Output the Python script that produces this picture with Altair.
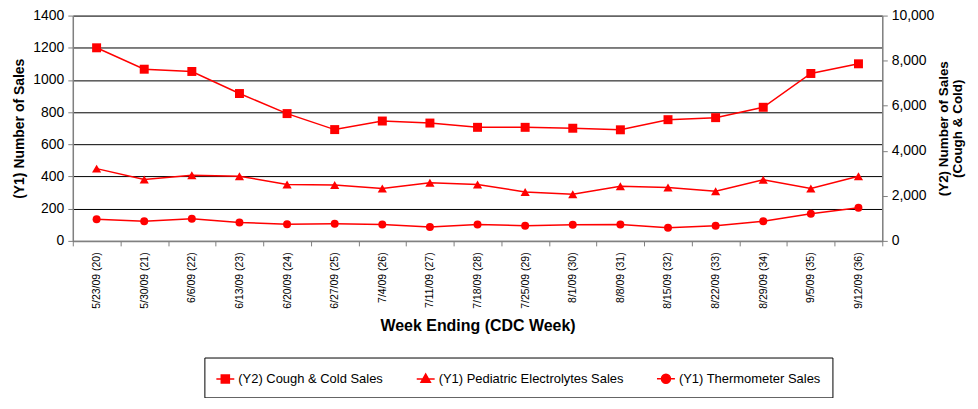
import altair as alt
import pandas as pd

weeks = ["5/23/09 (20)", "5/30/09 (21)", "6/6/09 (22)", "6/13/09 (23)", "6/20/09 (24)",
         "6/27/09 (25)", "7/4/09 (26)", "7/11/09 (27)", "7/18/09 (28)", "7/25/09 (29)",
         "8/1/09 (30)", "8/8/09 (31)", "8/15/09 (32)", "8/22/09 (33)", "8/29/09 (34)",
         "9/5/09 (35)", "9/12/09 (36)"]
cough_cold = [8570, 7620, 7520, 6540, 5650, 4940, 5320, 5230, 5040, 5040, 5000, 4930,
              5380, 5470, 5930, 7430, 7860]
pediatric = [449, 381, 408, 402, 351, 347, 326, 361, 351, 304, 290, 339, 332, 308, 380,
             326, 402]
thermometer = [135, 122, 137, 114, 104, 106, 102, 86, 102, 94, 100, 102, 82, 94, 122,
               169, 206]
series_names = ["(Y2) Cough & Cold Sales", "(Y1) Pediatric Electrolytes Sales",
                "(Y1) Thermometer Sales"]
y1_ticks = [0, 200, 400, 600, 800, 1000, 1200, 1400]
y2_ticks = [0, 2000, 4000, 6000, 8000, 10000]

rows = []
for name, vals in zip(series_names, [cough_cold, pediatric, thermometer]):
    for w, v in zip(weeks, vals):
        rows.append({"week": w, "series": name, "value": v})
df = pd.DataFrame(rows)

FONT = "Liberation Sans"
RED = "#FF0000"
GRAY = "#808080"

x_enc = alt.X(
    "week:N", sort=weeks,
    scale=alt.Scale(type="band", paddingInner=0, paddingOuter=0),
    axis=alt.Axis(
        title="Week Ending (CDC Week)", labelAngle=270, labelFont=FONT, labelFontSize=10.5,
        labelColor="black", labelPadding=6, labelOverlap=False, labelLimit=200,
        tickBand="extent", tickSize=5, tickColor=GRAY, domainColor=GRAY, domainWidth=1.5,
        grid=False, titleFont=FONT, titleFontSize=16, titleFontWeight="bold",
        titleColor="black", titlePadding=9,
    ),
)

y1_enc = alt.Y(
    "value:Q",
    scale=alt.Scale(domain=[0, 1400], nice=False),
    axis=alt.Axis(
        orient="left", values=y1_ticks, format="d", grid=True, gridColor="black",
        gridWidth=1, gridOpacity=1, domainColor=GRAY, domainWidth=1.5, tickColor=GRAY,
        tickSize=5, labelFont=FONT, labelFontSize=14, labelColor="black", labelPadding=4,
        title="(Y1) Number of Sales", titleFont=FONT, titleFontSize=14,
        titleFontWeight="bold", titleColor="black", titlePadding=6,
    ),
)

y2_enc = alt.Y(
    "value:Q",
    scale=alt.Scale(domain=[0, 10000], nice=False),
    axis=alt.Axis(
        orient="right", values=y2_ticks, format=",d", grid=False, domainColor=GRAY,
        domainWidth=1.5, tickColor=GRAY, tickSize=5, labelFont=FONT, labelFontSize=14,
        labelColor="black", labelPadding=4,
        title=["(Y2) Number of Sales", "(Cough & Cold)"], titleFont=FONT,
        titleFontSize=13.5, titleFontWeight="bold", titleColor="black", titleAngle=270,
        titleBaseline="middle", titleAlign="center", titleLineHeight=14,
        titleX=61, titleY=113,
    ),
)

base = alt.Chart(df)


def series_layers(name, shape, size, y_enc):
    d = base.transform_filter(alt.datum.series == name)
    line = d.mark_line(color=RED, strokeWidth=1.5).encode(x=x_enc, y=y_enc)
    pts = d.mark_point(shape=shape, size=size, filled=True, color=RED, opacity=1).encode(
        x=x_enc, y=y_enc)
    return line, pts


c_line, c_pts = series_layers(series_names[0], "square", 81, y2_enc)
p_line, p_pts = series_layers(series_names[1], "triangle-up", 85, y1_enc)
t_line, t_pts = series_layers(series_names[2], "circle", 64, y1_enc)

y1_layer = alt.layer(p_line, p_pts, t_line, t_pts)
y2_layer = alt.layer(c_line, c_pts)

legend_paths = [
    "M-1,0L1,0M-0.45,-0.45L0.45,-0.45L0.45,0.45L-0.45,0.45Z",
    "M-1,0L1,0M0,-0.55L0.52,0.38L-0.52,0.38Z",
    "M-1,0L1,0M-0.5,0A0.5,0.5 0 1,0 0.5,0A0.5,0.5 0 1,0 -0.5,0Z",
]
legend = alt.Legend(
    title=None, orient="none", legendX=132, legendY=343, direction="horizontal",
    labelFont=FONT, labelFontSize=13, labelColor="black", labelLimit=400,
    symbolSize=324, symbolStrokeWidth=1.5, symbolOpacity=1, labelOffset=3,
    columnPadding=30, padding=11, strokeColor="black", fillColor="white",
)
red_scale = alt.Scale(domain=series_names, range=[RED, RED, RED])
legend_layer = base.mark_point(filled=True, opacity=0).encode(
    x=x_enc,
    shape=alt.Shape("series:N", scale=alt.Scale(domain=series_names, range=legend_paths),
                    legend=legend),
    color=alt.Color("series:N", scale=red_scale, legend=legend),
    stroke=alt.Stroke("series:N", scale=red_scale, legend=legend),
)

chart = alt.layer(y1_layer, y2_layer, legend_layer).resolve_scale(
    y="independent"
).properties(
    width=812, height=226,
    padding={"left": 65, "top": 7, "right": 88, "bottom": 157},
    autosize=alt.AutoSizeParams(type="none"),
).configure_view(stroke=None).configure(background="white")

chart.save("out.html", embed_options={"renderer": "svg", "actions": False})
